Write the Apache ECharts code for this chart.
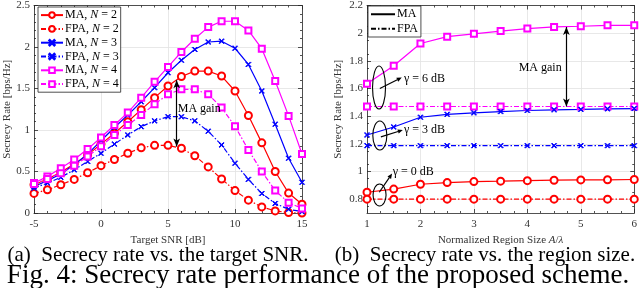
<!DOCTYPE html>
<html><head><meta charset="utf-8">
<script src="https://cdn.jsdelivr.net/npm/echarts@6/dist/echarts.min.js"></script>
<style>html,body{margin:0;padding:0;background:#fff}#c{width:640px;height:288px}</style>
</head><body><div id="c"></div>
<script>
// ---- Data: (a) secrecy rate vs target SNR ----
const snr = [-5,-4,-3,-2,-1,0,1,2,3,4,5,6,7,8,9,10,11,12,13,14,15];
const maN2  = [0.34,0.41,0.49,0.59,0.70,0.83,0.96,1.10,1.245,1.39,1.53,1.645,1.71,1.71,1.65,1.47,1.175,0.845,0.50,0.24,0.105];
const fpaN2 = [0.236,0.28,0.34,0.405,0.485,0.57,0.645,0.72,0.785,0.815,0.815,0.78,0.69,0.555,0.41,0.27,0.155,0.073,0.025,0.005,0.0];
const maN3  = [0.32,0.39,0.47,0.58,0.71,0.87,1.03,1.18,1.34,1.51,1.69,1.84,1.97,2.06,2.07,1.985,1.79,1.47,1.07,0.66,0.37];
const fpaN3 = [0.30,0.36,0.43,0.52,0.62,0.72,0.83,0.94,1.04,1.11,1.16,1.16,1.11,0.985,0.82,0.60,0.405,0.235,0.115,0.045,0.016];
const maN4  = [0.36,0.44,0.54,0.645,0.77,0.91,1.06,1.21,1.39,1.58,1.76,1.94,2.10,2.24,2.31,2.31,2.20,1.98,1.59,1.17,0.71];
const fpaN4 = [0.35,0.41,0.48,0.57,0.68,0.805,0.94,1.06,1.18,1.31,1.43,1.49,1.49,1.43,1.27,1.045,0.76,0.50,0.27,0.125,0.055];
const leftYTicks = [0,0.5,1,1.5,2,2.5];
const leftXTicks = [-5,0,5,10,15];

// ---- Data: (b) secrecy rate vs region size ----
const regionSize = [1,1.5,2,2.5,3,3.5,4,4.5,5,5.5,6];
const maG6  = [1.635,1.765,1.925,1.975,1.995,2.015,2.033,2.045,2.05,2.057,2.057];
const fpaG6 = [1.47,1.47,1.47,1.47,1.47,1.47,1.47,1.47,1.47,1.47,1.47];
const maG3  = [1.264,1.322,1.392,1.413,1.424,1.433,1.441,1.446,1.449,1.453,1.455];
const fpaG3 = [1.187,1.187,1.187,1.187,1.187,1.187,1.187,1.187,1.187,1.187,1.187];
const maG0  = [0.85,0.873,0.908,0.92,0.927,0.93,0.934,0.937,0.939,0.94,0.942];
const fpaG0 = [0.80,0.80,0.80,0.80,0.80,0.80,0.80,0.80,0.80,0.80,0.80];
const rightYTicks = [0.8,1,1.2,1.4,1.6,1.8,2,2.2];
const rightXTicks = [1,2,3,4,5,6];

const FONT = 'Liberation Serif';
const RED = '#ff0000', BLUE = '#0000ff', MAG = '#ff00ff';
const DASHDOT = [5,2,1.5,2];
const XMARK = 'path://M0,1L1,0L5,4L9,0L10,1L6,5L10,9L9,10L5,6L1,10L0,9L4,5Z';

function pairs(xs, ys){ return xs.map((x,i)=>[x, ys[i]]); }

function mkSeries(name, xs, ys, color, symbol, size, dashed, axisIdx, extra){
  return Object.assign({
    name, type:'line', xAxisIndex:axisIdx, yAxisIndex:axisIdx,
    data: pairs(xs, ys), symbol, symbolSize:size, showAllSymbol:true,
    color, itemStyle:{color, borderColor:color, borderWidth:1},
    lineStyle:{color, width:1.2, type: dashed ? DASHDOT : 'solid'},
    emphasis:{disabled:true}, z:3
  }, extra||{});
}

const axisLineStyle = {color:'#262626', width:0.8};
function xAxisMain(grid, min, max, interval, minorN, name, ticks){
  return {type:'value', gridIndex:grid, min, max, interval, position:'bottom',
    axisLine:{show:true, onZero:false, lineStyle:axisLineStyle},
    axisTick:{show:true, inside:true, length:4, lineStyle:axisLineStyle},
    minorTick:{show:true, splitNumber:minorN, length:2, lineStyle:axisLineStyle},
    axisLabel:{fontFamily:FONT, fontSize:11, color:'#333', margin:6,
      customValues:ticks},
    splitLine:{show:true, lineStyle:{color:'#e2e2e2', width:0.8}},
    name, nameLocation:'middle', nameGap:17,
    nameTextStyle:{fontFamily:FONT, fontSize:11, color:'#333',
      rich:{i:{fontFamily:FONT, fontSize:11, fontStyle:'italic', color:'#333'}}}
  };
}
function xAxisTop(grid, min, max, interval, minorN){
  return {type:'value', gridIndex:grid, min, max, interval, position:'top',
    axisLine:{show:true, onZero:false, lineStyle:axisLineStyle},
    axisTick:{show:true, inside:true, length:4, lineStyle:axisLineStyle},
    minorTick:{show:true, splitNumber:minorN, length:2, lineStyle:axisLineStyle},
    axisLabel:{show:false}, splitLine:{show:false}};
}
function yAxisMain(grid, min, max, interval, minorN, ticks, gap){
  return {type:'value', gridIndex:grid, min, max, interval, position:'left',
    axisLine:{show:true, onZero:false, lineStyle:axisLineStyle},
    axisTick:{show:true, inside:true, length:4, lineStyle:axisLineStyle, customValues:ticks},
    minorTick:{show:true, splitNumber:minorN, length:2, lineStyle:axisLineStyle},
    axisLabel:{fontFamily:FONT, fontSize:11, color:'#333', margin:4, customValues:ticks,
      formatter:v=>String(+v.toFixed(2))},
    splitLine:{show:true, lineStyle:{color:'#e2e2e2', width:0.8}},
    name:'Secrecy Rate [bps/Hz]', nameLocation:'middle', nameGap:gap,
    nameTextStyle:{fontFamily:FONT, fontSize:11, color:'#333'}
  };
}
function yAxisRight(grid, min, max, interval, minorN, ticks){
  return {type:'value', gridIndex:grid, min, max, interval, position:'right',
    axisLine:{show:true, onZero:false, lineStyle:axisLineStyle},
    axisTick:{show:true, inside:true, length:4, lineStyle:axisLineStyle, customValues:ticks},
    minorTick:{show:true, splitNumber:minorN, length:2, lineStyle:axisLineStyle},
    axisLabel:{show:false}, splitLine:{show:false}};
}

const chart = echarts.init(document.getElementById('c'), null, {renderer:'canvas'});

const arrowStyle = {color:'#000', width:1.2, type:'solid'};

const option = {
  animation:false,
  backgroundColor:'#fff',
  grid:[
    {left:34, top:5, width:268, height:208},
    {left:367, top:5, width:268, height:208}
  ],
  xAxis:[
    xAxisMain(0, -5, 15, 5, 5, 'Target SNR [dB]', leftXTicks),
    xAxisTop(0, -5, 15, 5, 5),
    xAxisMain(1, 1, 6, 1, 4, 'Normalized Region Size {i|A}/{i|λ}', rightXTicks),
    xAxisTop(1, 1, 6, 1, 4)
  ],
  yAxis:[
    yAxisMain(0, 0, 2.5, 0.5, 5, leftYTicks, 19),
    yAxisRight(0, 0, 2.5, 0.5, 5, leftYTicks),
    yAxisMain(1, 0.7, 2.2, 0.1, 2, rightYTicks, 23),
    yAxisRight(1, 0.7, 2.2, 0.1, 2, rightYTicks)
  ],
  legend:[
    {
      orient:'vertical', left:38, top:7, itemWidth:22, itemHeight:7, itemGap:1.6,
      padding:[2,2,2,2], backgroundColor:'#fff', borderColor:'#222', borderWidth:0.8,
      borderRadius:0, selectedMode:false,
      data:['MA, N = 2','FPA, N = 2','MA, N = 3','FPA, N = 3','MA, N = 4','FPA, N = 4'],
      formatter: n => n.replace('N', '{i|N}'),
      textStyle:{fontFamily:FONT, fontSize:12, color:'#000', padding:[0,0,0,-3], lineHeight:12.2,
        rich:{i:{fontFamily:FONT, fontSize:12, fontStyle:'italic', color:'#000'}}}
    },
    {
      orient:'vertical', left:368, top:6, itemWidth:24, itemHeight:7, itemGap:2,
      padding:[2,3,2,2], backgroundColor:'#fff', borderColor:'#222', borderWidth:0.8,
      borderRadius:0, selectedMode:false,
      data:[{name:'MA', itemStyle:{opacity:0}}, {name:'FPA', itemStyle:{opacity:0}}],
      textStyle:{fontFamily:FONT, fontSize:12, color:'#000', padding:[0,0,0,-3], lineHeight:12.5}
    }
  ],
  series:[
    mkSeries('MA, N = 2', snr, maN2, RED, 'emptyCircle', 7, false, 0),
    mkSeries('FPA, N = 2', snr, fpaN2, RED, 'emptyCircle', 7, true, 0, {
      markLine:{silent:true, symbol:['arrow','arrow'], symbolSize:[5,8], lineStyle:arrowStyle,
        label:{show:false}, data:[[{coord:[5.65,1.6]},{coord:[5.65,0.8]}]]},
      markPoint:{silent:true, symbol:'circle', symbolSize:0,
        data:[{coord:[5.65,1.25], label:{show:true, position:'right', distance:1, formatter:'MA gain',
          fontFamily:FONT, fontSize:12, color:'#000'}}]}
    }),
    mkSeries('MA, N = 3', snr, maN3, BLUE, XMARK, 5, false, 0),
    mkSeries('FPA, N = 3', snr, fpaN3, BLUE, XMARK, 5, true, 0),
    mkSeries('MA, N = 4', snr, maN4, MAG, 'emptyRect', 6, false, 0),
    mkSeries('FPA, N = 4', snr, fpaN4, MAG, 'emptyRect', 6, true, 0),

    mkSeries('γ = 6 dB MA', regionSize, maG6, MAG, 'emptyRect', 6, false, 2),
    mkSeries('γ = 6 dB FPA', regionSize, fpaG6, MAG, 'emptyRect', 6, true, 2, {
      markLine:{silent:true, symbol:['arrow','arrow'], symbolSize:[5,8], lineStyle:arrowStyle,
        label:{show:false}, data:[[{coord:[4.73,2.045]},{coord:[4.73,1.47]}]]},
      markPoint:{silent:true, symbol:'circle', symbolSize:0,
        data:[{coord:[4.66,1.75], label:{show:true, position:'left', distance:1, formatter:'MA gain',
          fontFamily:FONT, fontSize:12, color:'#000'}}]}
    }),
    mkSeries('γ = 3 dB MA', regionSize, maG3, BLUE, XMARK, 5, false, 2),
    mkSeries('γ = 3 dB FPA', regionSize, fpaG3, BLUE, XMARK, 5, true, 2),
    mkSeries('γ = 0 dB MA', regionSize, maG0, RED, 'emptyCircle', 7, false, 2),
    mkSeries('γ = 0 dB FPA', regionSize, fpaG0, RED, 'emptyCircle', 7, true, 2),
    {name:'MA', type:'line', xAxisIndex:2, yAxisIndex:2, data:[], symbol:'none', symbolSize:0, color:'#000',
      lineStyle:{color:'#000', width:1.2, type:'solid'}},
    {name:'FPA', type:'line', xAxisIndex:2, yAxisIndex:2, data:[], symbol:'none', symbolSize:0, color:'#000',
      lineStyle:{color:'#000', width:1.2, type:DASHDOT}}
  ]
};
chart.setOption(option);

// ---- annotations (ellipses + arrows) placed in data space of panel (b) ----
function px(x, y){ return chart.convertToPixel({gridIndex:1}, [x, y]); }
function arrowGraphic(p0, p1){
  const dx = p1[0]-p0[0], dy = p1[1]-p0[1], L = Math.hypot(dx,dy);
  const ux = dx/L, uy = dy/L, hl = 5, hw = 2.2;
  const bx = p1[0]-ux*hl, by = p1[1]-uy*hl;
  return [
    {type:'line', shape:{x1:p0[0], y1:p0[1], x2:bx, y2:by}, style:{stroke:'#000', lineWidth:1.2}, z:50},
    {type:'polygon', shape:{points:[[p1[0],p1[1]],[bx-uy*hw, by+ux*hw],[bx+uy*hw, by-ux*hw]]},
      style:{fill:'#000'}, z:50}
  ];
}
const ann = [
  {c:[1.225,1.607], rx:6.5, ry:21.5, a0:[1.24,1.60], a1:[1.65,1.68], t:[1.69,1.67], label:'γ = 6 dB'},
  {c:[1.24,1.26], rx:7, ry:14.5, a0:[1.26,1.25], a1:[1.67,1.30], t:[1.69,1.30], label:'γ = 3 dB'},
  {c:[1.235,0.83], rx:6.5, ry:11, a0:[1.23,0.85], a1:[1.47,0.985], t:[1.48,0.995], label:'γ = 0 dB'}
];
const graphics = [];
ann.forEach(a=>{
  const c = px(a.c[0], a.c[1]);
  graphics.push({type:'ellipse', shape:{cx:c[0], cy:c[1], rx:a.rx, ry:a.ry},
    style:{fill:null, stroke:'#000', lineWidth:1.1}, z:50});
  arrowGraphic(px(a.a0[0],a.a0[1]), px(a.a1[0],a.a1[1])).forEach(g=>graphics.push(g));
  const t = px(a.t[0], a.t[1]);
  graphics.push({type:'text', x:t[0], y:t[1], z:50,
    style:{text:a.label, fontFamily:FONT, fontSize:12, fill:'#000', align:'left', verticalAlign:'middle'}});
});
// captions
graphics.push({type:'text', x:158, y:255, style:{text:'(a)  Secrecy rate vs. the target SNR.', fontFamily:FONT, fontSize:21, fill:'#000', align:'center', verticalAlign:'middle'}});
graphics.push({type:'text', x:485, y:255, style:{text:'(b)  Secrecy rate vs. the region size.', fontFamily:FONT, fontSize:21, fill:'#000', align:'center', verticalAlign:'middle'}});
graphics.push({type:'text', x:318, y:276, style:{text:'Fig. 4: Secrecy rate performance of the proposed scheme.', fontFamily:FONT, fontSize:27, fill:'#000', align:'center', verticalAlign:'middle'}});
chart.setOption({graphic:graphics});
</script>
</body></html>
